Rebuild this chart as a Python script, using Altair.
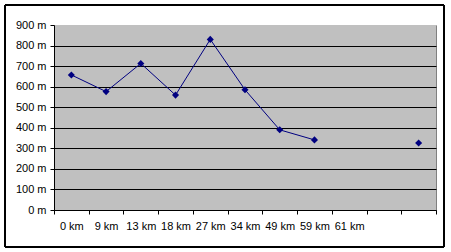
import altair as alt
import pandas as pd

labels = ["0 km", "9 km", "13 km", "18 km", "27 km", "34 km", "49 km", "59 km", "61 km", "", ""]
heights = [657, 576, 713, 559, 830, 585, 390, 341, None, None, 326]
y_ticks = [0, 100, 200, 300, 400, 500, 600, 700, 800, 900]

df = pd.DataFrame({"idx": list(range(len(labels))), "label": labels, "height": heights})

W, H = 382, 185
n = len(labels)
FONT = "Liberation Sans"
NAVY = "#000080"

label_arr = "[" + ",".join("'" + s + "'" for s in labels) + "]"

x_enc = alt.X(
    "pos:Q",
    scale=alt.Scale(domain=[0, n], nice=False, zero=False),
    axis=alt.Axis(
        title=None,
        values=list(range(n + 1)),
        labelExpr=label_arr + "[datum.value] || ''",
        labelOffset=W / n / 2,
        labelFlush=False,
        labelOverlap=False,
        grid=False,
        tickSize=4,
        labelPadding=6,
        domainColor="black",
        tickColor="black",
        labelColor="black",
        labelFont=FONT,
        labelFontSize=11,
    ),
)
y_enc = alt.Y(
    "height:Q",
    scale=alt.Scale(domain=[0, 900], nice=False),
    axis=alt.Axis(
        title=None,
        values=y_ticks,
        labelExpr="datum.value + ' m'",
        tickSize=4,
        labelPadding=4,
        domainColor="black",
        tickColor="black",
        labelColor="black",
        labelFont=FONT,
        labelFontSize=11,
        grid=True,
        gridColor=alt.condition("datum.value >= 900", alt.value("#C0C0C0"), alt.value("black")),
        gridWidth=1,
    ),
)

base = alt.Chart(df).transform_calculate(pos="datum.idx + 0.5")

line = base.mark_line(color=NAVY, strokeWidth=1, invalid="break-paths-show-domains").encode(x=x_enc, y=y_enc)
pts = base.mark_point(shape="diamond", filled=True, color=NAVY, size=50, opacity=1).encode(x=x_enc, y=y_enc)

frame = alt.Chart(df).mark_rect(fillOpacity=0, stroke="black", strokeWidth=1).encode(
    x=alt.value(-49), x2=alt.value(390), y=alt.value(-20), y2=alt.value(222)
)

chart = (
    alt.layer(line, pts, frame)
    .properties(
        width=W,
        height=H,
        padding={"left": 54, "top": 25, "right": 15, "bottom": 42},
        autosize=alt.AutoSizeParams(type="none"),
        background="white",
    )
    .configure_view(fill="#C0C0C0", stroke="#808080", strokeWidth=1)
)

chart.save("out.html", embed_options={"renderer": "svg", "actions": False})
